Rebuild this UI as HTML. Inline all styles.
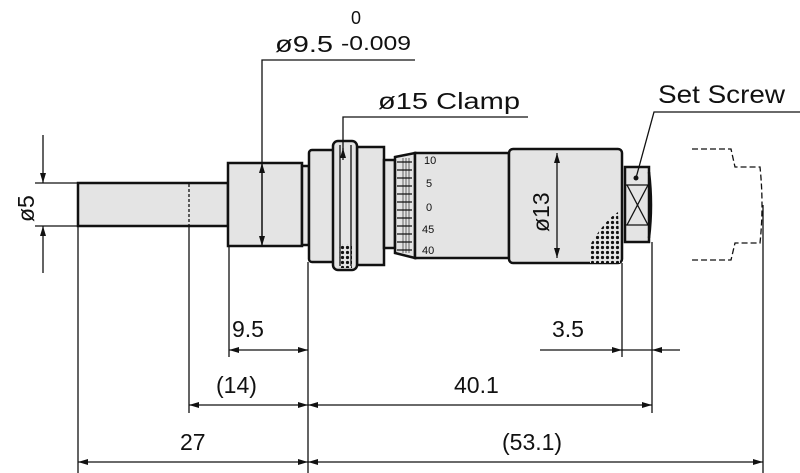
<!DOCTYPE html>
<html><head><meta charset="utf-8"><style>html,body{margin:0;padding:0;background:#fff}svg{display:block}text{font-family:"Liberation Sans",sans-serif;fill:#111}</style></head><body>
<svg width="800" height="473" viewBox="0 0 800 473" xmlns="http://www.w3.org/2000/svg">
<defs>
<marker id="a" viewBox="0 0 10 6" refX="10" refY="3" markerWidth="10" markerHeight="6" orient="auto-start-reverse" markerUnits="userSpaceOnUse"><path d="M0,0L10,3L0,6z" fill="#111"/></marker>
<pattern id="k" width="5" height="5" patternUnits="userSpaceOnUse"><rect width="5" height="5" fill="#e4e4e4"/><circle cx="2.5" cy="2.5" r="1.6" fill="#111"/></pattern>
</defs>
<g stroke="#111" fill="#e4e4e4" stroke-width="2.5">
<rect x="78" y="183" width="150" height="43"/>
<rect x="228" y="163" width="74" height="83"/>
<rect x="302" y="166" width="7" height="79"/>
<rect x="309" y="150" width="26" height="112" rx="3"/>
<rect x="357" y="147" width="27" height="118"/>
<rect x="333" y="141" width="24" height="129" rx="5"/>
<rect x="384" y="160" width="11" height="88"/>
<path d="M395,157 L415,153 L415,258 L395,253 Z"/>
<rect x="415" y="153" width="94" height="105"/>
<rect x="509" y="149" width="113" height="114" rx="4"/>
<rect x="625" y="167" width="24" height="75"/>
<path d="M649,172 Q653,205 649,238" fill="none"/>
</g>
<path d="M590,263 L590,245 Q605,220 618,212 L620,263Z" fill="url(#k)"/>
<rect x="339" y="244" width="13" height="24" fill="url(#k)"/>
<g stroke="#111" stroke-width="1.3" fill="none">
<line x1="189" y1="184" x2="189" y2="226" stroke-dasharray="3,2"/>
<line x1="340" y1="145" x2="340" y2="266"/><line x1="351" y1="145" x2="351" y2="266"/>
<path d="M397,162 h15 M397,170 h15 M397,178 h15 M397,186 h15 M397,194 h15 M397,202 h15 M397,210 h15 M397,218 h15 M397,226 h15 M397,234 h15 M397,242 h15 M397,250 h15"/>
<path d="M403,158v95M406,158v95M409,158v95" stroke-width="0.6"/>
<line x1="627" y1="185" x2="648" y2="225"/><line x1="648" y1="185" x2="627" y2="225"/>
<line x1="625" y1="185" x2="649" y2="185"/><line x1="625" y1="225" x2="649" y2="225"/>
<path d="M692,149 H731 L735,167 H760 Q764,205 760,243 H735 L731,260 H692" stroke-dasharray="6,3"/>
<line x1="35" y1="183" x2="78" y2="183"/><line x1="35" y1="226" x2="78" y2="226"/>
<line x1="78" y1="226" x2="78" y2="473"/>
<line x1="189" y1="226" x2="189" y2="413"/>
<line x1="229" y1="246" x2="229" y2="357"/>
<line x1="308" y1="262" x2="308" y2="473"/>
<line x1="622" y1="263" x2="622" y2="357"/>
<line x1="652" y1="242" x2="652" y2="413"/>
<line x1="763" y1="205" x2="763" y2="473"/>
<polyline points="262,246 262,60 415,60"/>
<polyline points="343,150 343,117 528,117"/>
<polyline points="636,178 654,112 800,112"/>
</g>
<circle cx="636" cy="178" r="2.5" fill="#111"/>
<g stroke="#111" stroke-width="1.3" fill="none" marker-start="url(#a)" marker-end="url(#a)">
<line x1="262" y1="163" x2="262" y2="246"/>
<line x1="557" y1="153" x2="557" y2="258"/>
<line x1="229" y1="350" x2="308" y2="350"/>
<line x1="189" y1="405" x2="308" y2="405"/>
<line x1="308" y1="405" x2="652" y2="405"/>
<line x1="78" y1="462" x2="308" y2="462"/>
<line x1="308" y1="462" x2="763" y2="462"/>
</g>
<g stroke="#111" stroke-width="1.3" fill="none">
<line x1="43" y1="135" x2="43" y2="183" marker-end="url(#a)"/>
<line x1="43" y1="273" x2="43" y2="226" marker-end="url(#a)"/>
<line x1="343" y1="160" x2="343" y2="148" marker-end="url(#a)"/>
<line x1="540" y1="350" x2="622" y2="350" marker-end="url(#a)"/>
<line x1="680" y1="350" x2="652" y2="350" marker-end="url(#a)"/>
<line x1="622" y1="350" x2="652" y2="350"/>
</g>
<g font-size="23">
<text x="275" y="52" textLength="58" lengthAdjust="spacingAndGlyphs">ø9.5</text>
<text x="341" y="50" font-size="20" textLength="70" lengthAdjust="spacingAndGlyphs">-0.009</text>
<text x="351" y="24" font-size="18">0</text>
<text x="378" y="109" textLength="142" lengthAdjust="spacingAndGlyphs">ø15 Clamp</text>
<text x="658" y="103" font-size="25" textLength="127" lengthAdjust="spacingAndGlyphs">Set Screw</text>
<text x="232" y="337">9.5</text>
<text x="552" y="337">3.5</text>
<text x="216" y="393">(14)</text>
<text x="454" y="393">40.1</text>
<text x="180" y="450">27</text>
<text x="502" y="450">(53.1)</text>
<text transform="translate(34,222) rotate(-90)">ø5</text>
<text transform="translate(549,232) rotate(-90)">ø13</text>
</g>
<g font-size="11">
<text x="424" y="164">10</text><text x="426" y="187">5</text><text x="426" y="211">0</text><text x="422" y="233">45</text><text x="422" y="254">40</text>
</g>
</svg>
</body></html>
